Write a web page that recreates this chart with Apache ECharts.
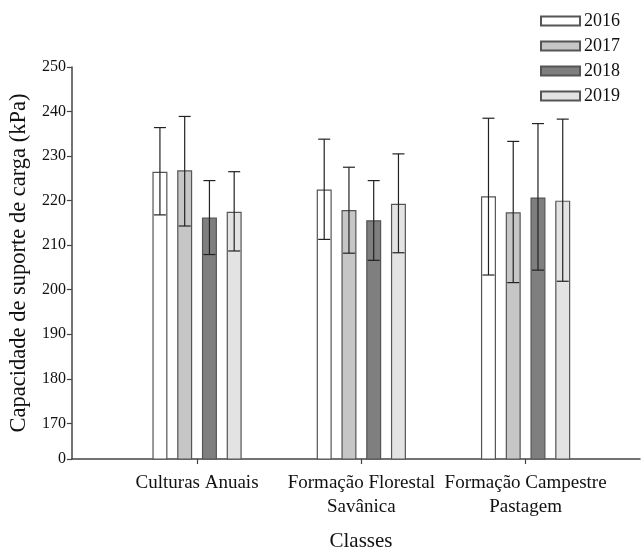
<!DOCTYPE html>
<html>
<head>
<meta charset="utf-8">
<script src="https://cdn.jsdelivr.net/npm/echarts@6/dist/echarts.min.js"></script>
<style>html,body{margin:0;padding:0;background:#fff;}#c{width:643px;height:550px;}</style>
</head>
<body>
<div id="c"></div>
<script>
const categories = ['Culturas Anuais', 'Formação Florestal\nSavânica', 'Formação Campestre\nPastagem'];
const categoryPositions = [1, 2, 3];
const years = ['2016', '2017', '2018', '2019'];
const mean2016 = [226.5, 222.5, 221.0];
const mean2017 = [226.8, 217.9, 217.4];
const mean2018 = [216.2, 215.6, 220.7];
const mean2019 = [217.5, 219.3, 220.0];
const low2016 = [216.8, 211.3, 203.3];
const low2017 = [214.3, 208.2, 201.6];
const low2018 = [207.9, 206.6, 204.4];
const low2019 = [208.7, 208.3, 201.9];
const high2016 = [236.4, 233.8, 238.5];
const high2017 = [238.9, 227.5, 233.3];
const high2018 = [224.5, 224.5, 237.3];
const high2019 = [226.5, 230.5, 238.3];
const yTickValues = [162, 170, 180, 190, 200, 210, 220, 230, 240, 250];
const yTickLabels = ['0', '170', '180', '190', '200', '210', '220', '230', '240', '250'];

const means = [mean2016, mean2017, mean2018, mean2019];
const lows = [low2016, low2017, low2018, low2019];
const highs = [high2016, high2017, high2018, high2019];
const colors = ['#ffffff', '#c6c6c6', '#7f7f7f', '#e3e3e3'];
const FONT = 'Liberation Serif';
const BAR_W = 15, BAR_GAP = 0.65;
const pitch = BAR_W * (1 + BAR_GAP);

const chart = echarts.init(document.getElementById('c'));
const barSeries = years.map((y, i) => ({
  type: 'bar',
  name: y,
  barWidth: BAR_W,
  barGap: (BAR_GAP * 100) + '%',
  data: categoryPositions.map((x, k) => [x, means[i][k]]),
  itemStyle: { color: colors[i], borderColor: '#555', borderWidth: 1.2 },
  emphasis: { disabled: true }
}));
const errData = [];
years.forEach((y, i) => categoryPositions.forEach((x, k) => errData.push([x, lows[i][k], highs[i][k], i])));
const errSeries = {
  type: 'custom',
  z: 5,
  silent: true,
  data: errData,
  encode: { x: 0, y: [1, 2] },
  renderItem: function (params, api) {
    const x = api.value(0), lo = api.value(1), hi = api.value(2), idx = api.value(3);
    const off = (idx - 1.5) * pitch;
    const pLo = api.coord([x, lo]), pHi = api.coord([x, hi]);
    const cx = pLo[0] + off, hw = 6;
    const st = { stroke: '#222', lineWidth: 1.2 };
    return {
      type: 'group',
      children: [
        { type: 'line', shape: { x1: cx, y1: pLo[1], x2: cx, y2: pHi[1] }, style: st },
        { type: 'line', shape: { x1: cx - hw, y1: pLo[1], x2: cx + hw, y2: pLo[1] }, style: st },
        { type: 'line', shape: { x1: cx - hw, y1: pHi[1], x2: cx + hw, y2: pHi[1] }, style: st }
      ]
    };
  }
};

chart.setOption({
  backgroundColor: '#ffffff',
  animation: false,
  textStyle: { fontFamily: FONT },
  grid: { left: 59, right: 3, top: 67, bottom: 91, containLabel: false },
  legend: {
    data: years,
    orient: 'vertical',
    left: 540, top: 12,
    padding: 0,
    itemWidth: 39, itemHeight: 9, itemGap: 7,
    icon: 'rect',
    textStyle: { fontFamily: FONT, fontSize: 18, color: '#111', padding: [0, 0, 0, -1] }
  },
  xAxis: {
    type: 'value',
    min: 0.2381, max: 3.6964,
    splitLine: { show: false },
    axisLine: { show: true, lineStyle: { color: '#444', width: 1.5 } },
    axisTick: { show: true, length: 5, customValues: categoryPositions, lineStyle: { color: '#444', width: 1.2 } },
    axisLabel: {
      customValues: categoryPositions,
      hideOverlap: false,
      formatter: v => categories[Math.round(v) - 1],
      fontFamily: FONT, fontSize: 19, color: '#111', margin: 12, lineHeight: 24
    }
  },
  yAxis: {
    type: 'value',
    min: 162, max: 250,
    splitLine: { show: false },
    axisLine: { show: true, lineStyle: { color: '#444', width: 1.5 } },
    axisTick: { show: true, length: 5, customValues: yTickValues, lineStyle: { color: '#444', width: 1.2 } },
    axisLabel: {
      customValues: yTickValues,
      formatter: v => yTickLabels[yTickValues.indexOf(v)],
      fontFamily: FONT, fontSize: 16, color: '#111', margin: 6
    },
    name: 'Capacidade de suporte de carga (kPa)',
    nameLocation: 'middle',
    nameGap: 34,
    nameTextStyle: { fontFamily: FONT, fontSize: 22.5, color: '#111' }
  },
  graphic: [{
    type: 'text', x: 361, y: 541,
    style: { text: 'Classes', fontFamily: FONT, fontSize: 21, fill: '#111', textAlign: 'center', textVerticalAlign: 'middle' }
  }],
  series: barSeries.concat([errSeries])
});
</script>
</body>
</html>
